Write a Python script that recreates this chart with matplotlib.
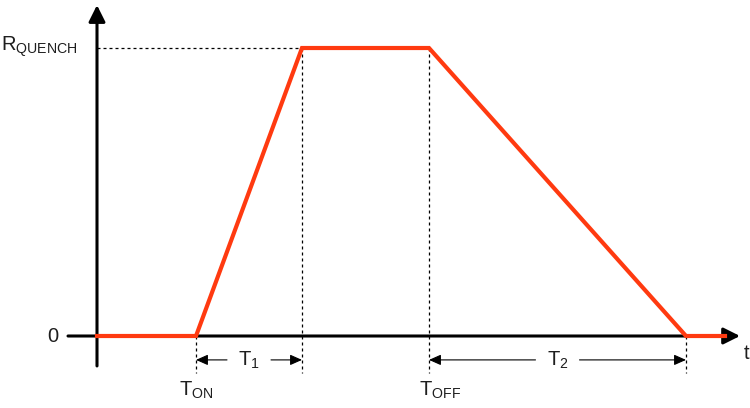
import matplotlib
matplotlib.use("Agg")
import matplotlib.pyplot as plt

plt.rcParams["font.family"] = ["Liberation Sans", "DejaVu Sans"]
plt.rcParams["mathtext.fontset"] = "custom"
plt.rcParams["mathtext.rm"] = "Liberation Sans"
plt.rcParams["mathtext.it"] = "Liberation Sans:italic"

# Quench resistance profile: off -> ramp up (T1) -> hold -> ramp down (T2) -> off
t_pts = [0.0, 0.99, 2.05, 3.32, 5.89, 6.28]
r_pts = [0.0, 0.0, 1.0, 1.0, 0.0, 0.0]

t_on, t_peak, t_off, t_end = t_pts[1], t_pts[2], t_pts[3], t_pts[4]
r_quench = max(r_pts)

RED = "#ff3a10"
INK = "#1e1e1e"
FS = 14.5

fig = plt.figure(figsize=(7.5, 4.08), dpi=100)
ax = fig.add_axes([0, 0, 1, 1])
ax.set_xlim(-0.97, 6.53)
ax.set_ylim(-0.25, 1.1667)
ax.axis("off")

# axes with arrowheads
axis_kw = dict(arrowstyle="-|>,head_length=1.0,head_width=0.5",
               color="black", lw=2.2, shrinkA=0, shrinkB=0, mutation_scale=10)
ax.annotate("", xy=(0, 1.149), xytext=(0, -0.104), arrowprops=axis_kw)
ax.annotate("", xy=(6.43, 0), xytext=(-0.29, 0), arrowprops=axis_kw)

# guide lines
dash = dict(color="black", lw=0.9, ls=(0, (2.4, 2.4)))
ax.plot([0, t_peak], [r_quench, r_quench], **dash)
ax.plot([t_on, t_on], [0, -0.128], **dash)
ax.plot([t_peak, t_peak], [r_quench, -0.128], **dash)
ax.plot([t_off, t_off], [r_quench, -0.128], **dash)
ax.plot([t_end, t_end], [0, -0.128], **dash)

# resistance curve
ax.plot(t_pts, r_pts, color=RED, lw=3.0, solid_joinstyle="miter", zorder=5)

# dimension arrows
dim_y = -0.083
dim_kw = dict(arrowstyle="-|>,head_length=0.72,head_width=0.32",
              color="black", lw=0.8, shrinkA=0, shrinkB=0, mutation_scale=10)


def dimension(a, b, label, gap):
    mid = (a + b) / 2
    ax.annotate("", xy=(a, dim_y), xytext=(mid - gap, dim_y), arrowprops=dim_kw)
    ax.annotate("", xy=(b, dim_y), xytext=(mid + gap, dim_y), arrowprops=dim_kw)
    ax.text(mid, dim_y, label, ha="center", va="center", fontsize=FS, color=INK)


dimension(t_on, t_peak, r"$\mathrm{T_1}$", 0.22)
dimension(t_off, t_end, r"$\mathrm{T_2}$", 0.22)

# labels
ax.text(-0.19, r_quench + 0.005, r"$\mathrm{R_{QUENCH}}$", ha="right", va="center",
        fontsize=FS, color=INK)
ax.text(-0.44, 0.0, "0", ha="center", va="center", fontsize=FS, color=INK)
ax.text(t_on, -0.19, r"$\mathrm{T_{ON}}$", ha="center", va="center", fontsize=FS, color=INK)
ax.text(t_off + 0.11, -0.19, r"$\mathrm{T_{OFF}}$", ha="center", va="center", fontsize=FS, color=INK)
ax.text(6.47, -0.06, "t", ha="left", va="center", fontsize=FS, color=INK)

fig.savefig("out.png", dpi=100)
